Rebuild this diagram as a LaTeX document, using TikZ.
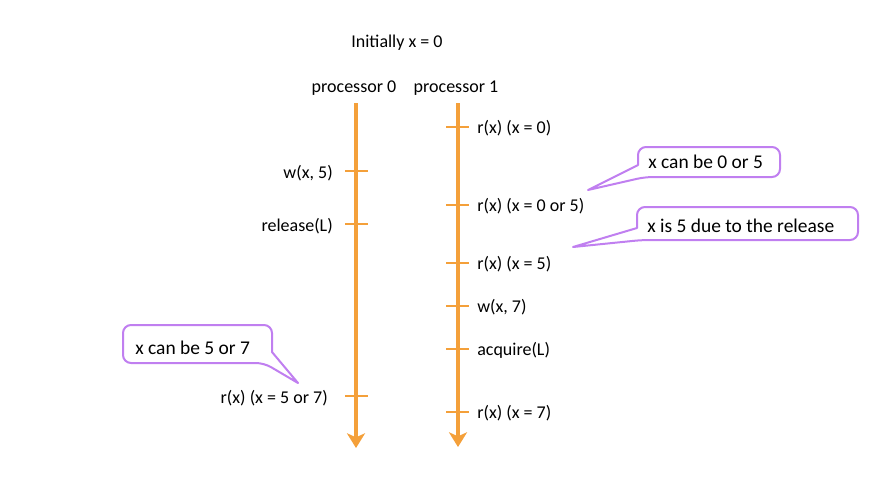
\documentclass[tikz,border=0pt]{standalone}
\usepackage{fontspec}
\setmainfont{Carlito}
\usepackage{tikz}
\usetikzlibrary{arrows.meta}
\definecolor{lineorange}{RGB}{244,160,58}
\definecolor{notepurple}{RGB}{192,127,240}

\begin{document}
\begin{tikzpicture}[x=0.75pt,y=-0.75pt]
\tikzset{timeline/.style = {draw=lineorange,line width=3.4pt,-{Stealth[length=11pt,width=13.5pt,inset=3pt]}}}
\tikzset{tick/.style = {draw=lineorange,line width=2.2pt}}
\tikzset{label/.style = {font=\fontsize{13.5}{16}\selectfont,inner sep=0pt}}
\tikzset{note/.style = {draw=notepurple,line width=1.5pt,fill=white,line join=round}}
\tikzset{notetext/.style = {font=\fontsize{14.6}{17}\selectfont,inner sep=0pt,anchor=west}}
\useasboundingbox (0,0) rectangle (892,482);
% headings
\node[label] (init) at (397,43) {Initially x = 0};
\node[label] (p0) at (354,88) {processor 0};
\node[label] (p1) at (456,88) {processor 1};
% time lines
\coordinate (p0top) at (356,103);
\coordinate (p0end) at (356,448);
\coordinate (p1top) at (458,103);
\coordinate (p1end) at (458,447);
\draw[timeline] (p0top) -- (p0end);
\draw[timeline] (p1top) -- (p1end);
% events of processor 0
\foreach \y/\x/\name/\txt in {171/333/a/{w(x, 5)},224/333/b/{release(L)},396/328/c/{r(x) (x = 5 or 7)}}{
  \coordinate (\name l) at (345,\y);
  \coordinate (\name r) at (368,\y);
  \draw[tick] (\name l) -- (\name r);
  \node[label,anchor=east] (\name) at (\x,\y+2) {\txt};
}
% events of processor 1
\foreach \y/\name/\txt in {127/d/{r(x) (x = 0)},205/e/{r(x) (x = 0 or 5)},263/f/{r(x) (x = 5)},306/g/{w(x, 7)},349/h/{acquire(L)},412/i/{r(x) (x = 7)}}{
  \coordinate (\name l) at (446,\y);
  \coordinate (\name r) at (469,\y);
  \draw[tick] (\name l) -- (\name r);
  \node[label,anchor=west] (\name) at (477,\y+1) {\txt};
}
% notes
\coordinate (tip1) at (588,190);
\coordinate (tip2) at (573,247);
\coordinate (tip3) at (298,383);
\draw[note] (638,165) [rounded corners=6pt] -- (638,147) -- (780,147) -- (780,177) -- (645,177) [sharp corners] -- (tip1) -- cycle;
\draw[note] (637,228) [rounded corners=6pt] -- (637,207) -- (858,207) -- (858,240) -- (642,240) [sharp corners] -- (tip2) -- cycle;
\draw[note] (272,352) [rounded corners=6pt] -- (272,325) -- (123,325) -- (123,363) -- (264,363) [sharp corners] -- (tip3) -- cycle;
\node[notetext] (n1) at (648,162) {x can be 0 or 5};
\node[notetext] (n2) at (647,226) {x is 5 due to the release};
\node[notetext] (n3) at (135,348) {x can be 5 or 7};
\end{tikzpicture}
\end{document}
